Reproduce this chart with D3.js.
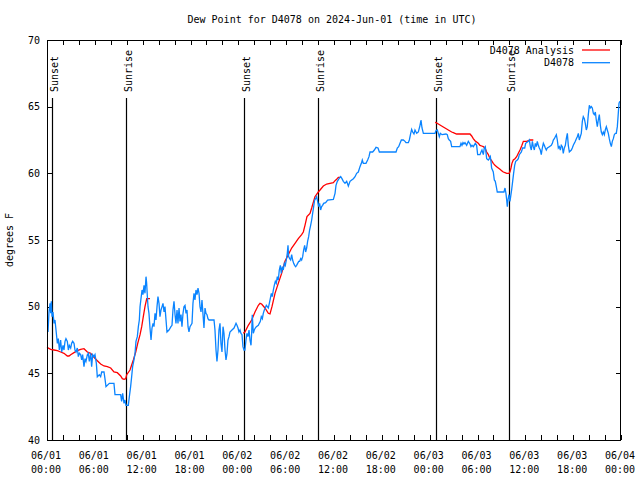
<!DOCTYPE html>
<html><head><meta charset="utf-8">
<script src="https://cdn.jsdelivr.net/npm/d3@7/dist/d3.min.js"></script>
<style>
body{margin:0;background:#fff;}
svg text{font-family:"DejaVu Sans Mono","Liberation Mono",monospace;font-size:10px;fill:#000;}
</style></head>
<body><svg id="c" width="640" height="480"></svg>
<script>
// ---- data (hours since 06/01 00:00 UTC, dew point in F) ----
const obsTime = [0.13,0.25,0.38,0.46,0.54,0.63,0.75,0.88,1.0,1.13,1.30,1.42,1.55,1.71,1.84,2.01,2.13,2.26,2.38,2.55,2.68,2.80,2.97,3.09,3.22,3.39,3.51,3.64,3.80,3.93,4.06,4.22,4.35,4.47,4.64,4.77,4.89,5.06,5.18,5.31,5.48,5.60,5.73,5.89,6.02,6.19,6.31,6.56,6.73,6.86,7.15,7.27,7.40,7.82,8.40,8.53,9.24,9.36,9.49,9.66,9.78,9.91,10.20,10.33,10.49,10.62,10.74,10.91,11.04,11.16,11.33,11.46,11.58,
11.67,11.92,12.04,12.17,12.29,12.42,12.50,12.59,12.67,12.79,12.92,13.05,13.17,13.30,13.42,13.55,13.67,13.80,13.92,14.05,14.17,14.30,14.43,14.55,14.68,14.80,14.93,15.05,15.30,15.55,15.68,15.80,15.93,16.06,16.18,16.31,16.43,16.56,16.68,16.81,16.93,17.06,17.18,17.31,17.44,17.56,17.69,17.81,17.94,18.19,18.31,18.44,18.56,18.69,18.82,18.94,19.07,19.19,19.32,19.44,19.57,19.69,19.82,19.94,20.07,20.19,20.32,20.95,21.07,21.20,21.32,21.45,21.57,21.70,21.82,21.95,22.08,22.20,22.33,22.45,22.58,22.70,22.83,22.95,23.20,23.46,23.71,23.83,23.96,24.08,24.21,24.33,24.46,24.58,24.71,
24.83,24.96,25.08,25.21,25.34,25.46,25.59,25.67,25.75,25.88,26.0,26.13,26.26,26.51,26.63,26.76,26.88,27.01,27.13,27.26,27.38,27.51,27.64,27.76,27.89,28.01,28.14,28.26,28.39,28.51,28.64,28.76,28.89,29.01,29.14,29.27,29.39,29.52,29.64,29.77,29.89,30.02,30.14,30.23,30.31,30.44,30.56,30.69,30.81,30.94,31.06,31.19,31.31,31.44,31.57,31.69,31.82,31.94,32.07,32.19,32.32,32.44,32.57,32.69,32.82,32.94,33.07,33.20,33.32,33.45,33.57,33.70,33.82,33.95,34.07,34.20,34.32,34.45,34.57,34.70,34.95,35.20,
35.92,36.13,36.25,36.42,36.63,36.84,37.0,37.17,37.38,37.59,37.80,38.01,38.22,38.43,38.64,38.84,39.05,39.26,39.43,39.55,39.68,40.01,40.22,40.39,40.52,40.85,41.06,41.27,41.52,41.69,43.78,43.94,44.11,44.28,44.45,44.70,44.91,45.03,45.32,45.45,45.62,45.74,45.87,46.03,46.16,46.37,46.58,46.79,46.91,47.04,47.21,48.67,
48.79,48.96,49.09,49.21,49.34,49.55,50.05,50.21,50.34,50.46,50.63,50.76,51.80,51.93,52.05,52.18,52.30,52.43,52.64,52.85,53.06,53.18,53.31,53.47,53.73,53.89,54.02,54.31,54.44,54.56,54.73,54.85,54.98,55.15,55.36,55.48,55.61,55.69,55.77,55.98,56.11,56.23,56.36,56.48,57.32,57.45,57.57,57.66,57.74,57.82,57.95,58.07,58.16,58.28,58.41,58.53,58.66,58.79,58.99,59.12,59.24,59.37,59.50,59.66,
59.92,60.04,60.38,60.50,60.63,60.75,60.88,61.0,61.13,61.25,61.38,61.50,61.63,61.75,61.88,62.0,62.13,62.26,62.38,62.51,62.63,62.76,63.01,63.26,63.39,63.51,63.64,63.76,63.89,64.01,64.14,64.26,64.39,64.51,64.64,64.76,64.89,65.02,65.14,65.27,65.39,65.52,65.77,65.89,66.02,66.14,66.27,66.40,66.52,66.65,66.77,66.90,67.02,67.15,67.27,67.40,67.52,67.65,67.77,67.90,68.03,68.15,68.28,68.40,68.53,68.65,68.78,68.90,69.03,69.15,69.28,69.41,69.53,69.66,69.78,69.91,70.03,70.16,70.28,70.41,70.53,70.66,70.79,70.91,71.04,71.16,71.29,71.41,71.54,71.66,71.75,71.85];
const obsDew = [48.1,49.6,50.25,49.5,50.4,49.25,49.6,48.75,49.0,48.25,47.25,47.6,46.75,47.5,46.6,47.1,46.75,47.4,47.6,47.4,46.75,47.1,46.9,47.25,47.4,47.25,46.75,46.6,46.9,46.25,46.5,46.4,46.0,46.4,45.5,46.1,45.9,46.4,46.5,45.9,46.5,45.5,46.4,46.25,46.4,45.75,44.75,44.9,44.75,45.1,45.1,44.6,44.0,44.25,44.25,43.4,43.4,42.9,43.5,42.75,43.0,42.6,42.6,43.25,44.0,44.75,45.5,46.0,46.5,47.4,47.75,48.5,49.0,
50.0,51.25,50.9,51.6,51.0,52.25,51.75,50.75,50.0,49.5,48.4,47.5,48.4,48.75,48.5,49.5,49.0,50.0,50.75,50.25,49.25,49.75,50.0,50.25,49.6,50.0,49.0,48.1,48.25,48.5,48.6,49.75,50.4,49.4,48.75,49.75,48.75,49.9,48.9,49.4,48.5,49.5,50.0,50.1,49.5,49.75,48.5,48.1,48.5,48.75,50.25,51.0,50.5,51.25,50.9,51.4,51.0,50.0,49.6,50.5,49.4,48.4,49.9,49.5,49.4,49.1,49.0,49.0,48.25,46.75,45.9,46.75,48.25,48.75,47.25,46.6,48.5,48.0,46.75,46.0,46.5,47.5,47.75,48.1,48.25,48.4,48.75,48.6,48.4,48.1,48.25,48.0,47.9,47.0,46.75,
46.75,47.5,48.0,47.75,48.25,47.5,47.1,48.0,49.4,48.0,48.25,48.4,48.5,48.6,48.75,48.9,49.25,49.1,49.5,49.75,49.9,50.1,50.0,49.9,50.25,50.6,51.0,50.75,51.25,51.6,51.9,51.75,52.25,52.0,52.75,53.1,52.5,53.0,52.75,53.25,53.1,53.5,54.0,54.6,53.75,53.6,53.5,53.9,53.5,53.25,53.1,53.0,53.1,53.25,53.4,53.4,53.6,53.5,53.75,54.25,54.6,54.1,54.4,54.9,55.25,55.75,56.1,56.5,57.0,57.5,58.0,58.1,58.25,57.9,57.5,57.75,57.25,57.5,57.6,57.75,57.8,58.0,
58.05,58.5,59.1,59.4,59.6,59.75,59.6,59.4,59.25,59.4,59.05,59.4,59.5,59.6,59.75,60.0,60.1,60.5,60.75,61.0,60.75,60.75,61.0,61.25,61.6,61.6,61.75,61.95,61.9,61.6,61.6,61.9,62.0,62.25,62.5,62.5,62.4,62.3,62.3,62.5,63.0,63.3,63.1,62.95,63.25,63.0,63.1,63.6,64.0,63.4,63.0,63.0,
63.2,63.25,63.0,62.75,63.0,62.9,62.95,62.9,62.6,62.5,62.4,62.0,62.0,62.25,62.1,62.3,62.2,62.3,62.1,62.4,62.2,62.0,62.1,62.0,62.25,62.1,61.4,61.4,61.6,61.75,61.4,61.9,62.0,61.1,61.0,61.1,61.25,60.9,60.4,60.1,59.5,59.4,59.0,58.6,58.6,58.9,58.5,58.0,57.5,58.0,58.4,57.9,58.25,58.75,59.4,60.0,60.6,60.9,61.0,61.1,61.4,61.5,61.6,61.9,
61.9,62.25,62.4,62.5,62.0,61.75,62.4,62.0,61.75,62.25,62.0,62.4,62.1,61.9,61.75,61.4,61.9,62.25,62.1,61.9,61.75,61.9,62.0,62.1,62.25,62.5,62.6,62.75,62.9,62.5,61.9,62.0,61.75,62.1,62.0,61.5,61.9,62.1,62.6,63.0,62.1,61.6,61.75,61.9,62.1,62.25,62.4,62.6,62.75,63.0,62.5,62.75,63.0,63.9,64.25,64.1,63.75,63.25,63.5,64.4,65.1,64.9,65.0,64.9,64.5,64.4,64.6,64.0,63.5,64.0,64.4,63.6,63.1,62.9,63.1,62.9,63.25,63.5,63.25,63.0,62.6,62.25,62.0,62.4,62.6,62.9,63.0,63.0,63.5,64.5,65.25,65.4];

// analysis: null marks a gap
const anaTime = [0.0,0.46,0.88,1.30,1.71,2.13,2.55,2.76,2.97,3.39,3.80,4.22,4.64,5.06,5.48,5.89,6.31,6.73,7.15,7.57,7.99,8.40,8.82,9.24,9.45,9.66,9.87,10.0,10.41,10.83,11.13,11.38,11.67,11.88,12.08,12.29,12.51,12.92,
null,
24.62,24.83,25.25,25.67,26.09,26.51,26.72,26.92,27.34,27.76,27.97,28.22,28.60,29.01,29.43,29.85,30.27,30.69,31.11,31.52,31.94,32.15,32.36,32.61,32.99,33.20,33.61,34.03,34.25,34.66,35.08,35.50,35.92,36.13,36.33,36.54,36.84,
null,
48.72,48.79,49.09,49.50,49.92,50.34,50.76,50.97,51.17,51.38,53.06,53.27,53.47,53.68,53.89,54.10,54.31,54.52,54.73,54.94,55.15,55.36,55.57,55.77,55.98,56.19,56.40,56.61,56.82,57.03,57.24,57.45,57.66,57.95,58.07,58.20,58.32,58.49,58.70,58.91,59.12,59.33,59.54,59.75,60.17,60.58,61.0];
const anaDew = [46.95,46.8,46.75,46.7,46.6,46.5,46.3,46.3,46.4,46.55,46.7,46.8,46.85,46.6,46.5,46.2,45.95,45.7,45.55,45.5,45.4,45.1,45.05,44.8,44.6,44.55,44.6,44.9,45.25,46.0,46.6,47.25,47.9,48.5,49.25,50.0,50.6,50.6,
null,
48.0,48.1,48.6,49.0,49.6,50.1,50.25,50.2,49.9,49.5,49.45,50.0,51.0,51.75,52.5,53.4,53.9,54.4,54.75,55.1,55.4,55.6,56.1,56.75,57.0,57.4,58.25,58.6,58.75,59.05,59.2,59.25,59.3,59.45,59.55,59.7,59.7,
null,
63.85,63.8,63.7,63.55,63.4,63.25,63.1,63.05,63.0,62.95,62.95,62.8,62.6,62.45,62.35,62.25,62.1,62.05,62.0,61.9,61.6,61.4,61.1,60.95,60.75,60.6,60.5,60.4,60.3,60.2,60.1,60.05,60.0,60.0,60.1,60.4,60.75,61.0,61.1,61.25,61.5,61.75,62.05,62.4,62.4,62.5,62.5];

const sunEvents = [["Sunset",0.67],["Sunrise",9.92],["Sunset",24.7],["Sunrise",33.97],["Sunset",48.78],["Sunrise",57.93]];
const xTickHours = [0,6,12,18,24,30,36,42,48,54,60,66,72];
const xTickDates = ["06/01","06/01","06/01","06/01","06/02","06/02","06/02","06/02","06/03","06/03","06/03","06/03","06/04"];
const xTickTimes = ["00:00","06:00","12:00","18:00","00:00","06:00","12:00","18:00","00:00","06:00","12:00","18:00","00:00"];
const yTicks = [40,45,50,55,60,65,70];
const seriesNames = ["D4078 Analysis","D4078"];
const seriesColors = ["#ff0000","#0a84ff"];

// ---- layout ----
const L=47, R=621, T=40, B=440;
const svg = d3.select("#c");
const x = d3.scaleLinear().domain([0,72]).range([L,R]);
const y = d3.scaleLinear().domain([40,70]).range([B,T]);

svg.append("text").attr("x",332).attr("y",23).attr("text-anchor","middle")
  .text("Dew Point for D4078 on 2024-Jun-01 (time in UTC)");

// axes ticks (inward)
const minor = d3.range(0,73,2);
svg.append("g").attr("transform",`translate(0,${B})`)
  .call(d3.axisBottom(x).tickValues(minor).tickSize(-5).tickFormat(""))
  .call(g=>g.select(".domain").remove());
svg.append("g").attr("transform",`translate(0,${T})`)
  .call(d3.axisTop(x).tickValues(minor).tickSize(-5).tickFormat(""))
  .call(g=>g.select(".domain").remove());
svg.append("g").attr("transform",`translate(${L},0)`)
  .call(d3.axisLeft(y).tickValues(yTicks).tickSize(-5).tickFormat(""))
  .call(g=>g.select(".domain").remove());
svg.append("g").attr("transform",`translate(${R},0)`)
  .call(d3.axisRight(y).tickValues(yTicks).tickSize(-5).tickFormat(""))
  .call(g=>g.select(".domain").remove());
svg.selectAll(".tick line").attr("stroke","#000").attr("shape-rendering","crispEdges");

// y labels
svg.selectAll(".ylab").data(yTicks).enter().append("text")
  .attr("x",40).attr("y",d=>y(d)+3.5).attr("text-anchor","end").text(d=>d);
// x labels
xTickHours.forEach((h,i)=>{
  svg.append("text").attr("x",x(h)-1).attr("y",458.5).attr("text-anchor","middle").text(xTickDates[i]);
  svg.append("text").attr("x",x(h)-1).attr("y",472.5).attr("text-anchor","middle").text(xTickTimes[i]);
});
svg.append("text").attr("transform","translate(13,240) rotate(-90)").attr("text-anchor","middle").text("degrees F");

// sun events
sunEvents.forEach(([name,h])=>{
  const px = Math.round(x(h))+0.5;
  svg.append("line").attr("x1",px).attr("x2",px).attr("y1",98).attr("y2",B)
    .attr("stroke","#000").attr("stroke-width",1.2);
  svg.append("text").attr("transform",`translate(${px+5},92) rotate(-90)`).text(name);
});

// series
const obs = obsTime.map((t,i)=>[t,obsDew[i]]);
const ana = anaTime.map((t,i)=>[t,anaDew[i]]);
const line = d3.line().defined(d=>d[0]!==null&&d[1]!==null).x(d=>x(d[0])).y(d=>y(d[1])).curve(d3.curveLinear);
svg.append("path").datum(ana).attr("d",line).attr("fill","none").attr("stroke",seriesColors[0]).attr("stroke-width",1.3);
svg.append("path").datum(obs).attr("d",line).attr("fill","none").attr("stroke",seriesColors[1]).attr("stroke-width",1.3);

// frame
svg.append("rect").attr("x",L+0.5).attr("y",T+0.5).attr("width",R-L-1).attr("height",B-T)
  .attr("fill","none").attr("stroke","#000").attr("shape-rendering","crispEdges");

// legend
seriesNames.forEach((n,i)=>{
  const ly = 50 + i*12.7;
  svg.append("text").attr("x",574).attr("y",ly+3.5).attr("text-anchor","end").text(n);
  svg.append("line").attr("x1",582).attr("x2",610).attr("y1",ly).attr("y2",ly)
    .attr("stroke",seriesColors[i]).attr("stroke-width",1.3);
});
</script></body></html>
